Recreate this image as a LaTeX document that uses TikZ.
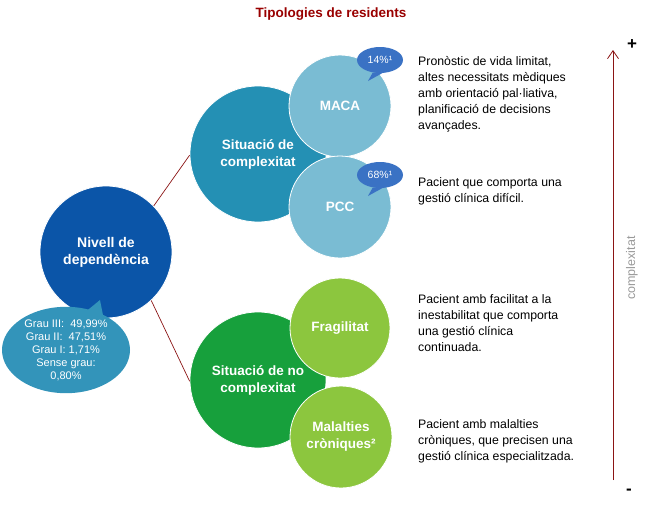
\documentclass[tikz,border=0pt]{standalone}
\usepackage{fontspec}
\setmainfont{Liberation Sans}
\usetikzlibrary{shapes.geometric,arrows.meta}
\definecolor{nivc}{RGB}{11,85,168}
\definecolor{scc}{RGB}{36,144,180}
\definecolor{lbc}{RGB}{122,188,211}
\definecolor{elc}{RGB}{51,148,186}
\definecolor{pctc}{RGB}{58,114,196}
\definecolor{dgc}{RGB}{23,160,60}
\definecolor{lgc}{RGB}{140,198,62}
\definecolor{linec}{RGB}{139,20,20}
\definecolor{titlec}{RGB}{153,0,0}
\tikzset{
  circ/.style={circle, draw=white, line width=0.8pt, text=white, align=center, inner sep=0pt,
    font=\bfseries\fontsize{13.5}{17}\selectfont},
  desc/.style={anchor=west, align=left, inner sep=0pt, font=\fontsize{12.3}{16}\selectfont},
  pct/.style={ellipse, fill=pctc, minimum width=46pt, minimum height=26pt, inner sep=0pt,
    text=white, font=\fontsize{10.5}{12}\selectfont},
  conn/.style={draw=linec, line width=0.7pt}
}
\begin{document}
\begin{tikzpicture}[x=1pt,y=-1pt]
\useasboundingbox (0,0) rectangle (654,520);
% title
\node[font=\bfseries\fontsize{13.5}{15}\selectfont, text=titlec] (title) at (331,14) {Tipologies de residents};
% main circle
\node[circ, fill=nivc, minimum size=132pt, font=\bfseries\fontsize{14}{17}\selectfont] (niv) at (106,252) {Nivell de\\dependència};
% bubble
\node[ellipse, fill=elc, minimum width=128pt, minimum height=76pt, inner sep=0pt, text=white,
  align=center, font=\fontsize{11}{13}\selectfont] (grau) at (66,350) {Grau III:\ \ 49,99\%\\Grau II:\ \ 47,51\%\\Grau I: 1,71\%\\Sense grau:\\0,80\%};
\coordinate (gapex) at (100,300);
\coordinate (gl) at (78,318);
\coordinate (gr) at (104,320);
\fill[elc] (gl) -- (gapex) -- (gr) -- cycle;
% complexity circles
\node[circ, fill=scc, minimum size=136pt] (sc) at (258,154) {Situació de\\complexitat};
\node[circ, fill=lbc, minimum size=102pt] (maca) at (340,106) {MACA};
\node[circ, fill=lbc, minimum size=102pt] (pcc) at (340,207) {PCC};
\node[pct] (p14) at (380,60) {14\%¹};
\coordinate (p14a) at (368,81);
\fill[pctc] (p14.-120) -- (p14a) -- (p14.-80) -- cycle;
\node[pct] (p68) at (380,175) {68\%¹};
\coordinate (p68a) at (368,196);
\fill[pctc] (p68.-120) -- (p68a) -- (p68.-80) -- cycle;
% non complexity circles
\node[circ, fill=dgc, minimum size=136pt] (snc) at (258,380) {Situació de no\\complexitat};
\node[circ, fill=lgc, minimum size=100pt] (frag) at (340,328) {Fragilitat};
\node[circ, fill=lgc, minimum size=102pt] (mal) at (341,437) {Malalties\\cròniques²};
% connectors
\draw[conn] (niv.44) -- (sc.181);
\draw[conn] (niv.-47) -- (snc.181);
% descriptions
\node[desc] (d1) at (418,94) {Pronòstic de vida limitat,\\altes necessitats mèdiques\\amb orientació pal·liativa,\\planificació de decisions\\avançades.};
\node[desc] (d2) at (418,191) {Pacient que comporta una\\gestió clínica difícil.};
\node[desc] (d3) at (418,323) {Pacient amb facilitat a la\\inestabilitat que comporta\\una gestió clínica\\continuada.};
\node[desc] (d4) at (418,441) {Pacient amb malalties\\cròniques, que precisen una\\gestió clínica especialitzada.};
% axis
\coordinate (abot) at (613,480);
\coordinate (atop) at (613,50);
\draw[draw=linec, line width=0.8pt, -{Straight Barb[length=8pt,width=11pt]}] (abot) -- (atop);
\node[font=\bfseries\fontsize{17}{17}\selectfont] (plus) at (632,45) {+};
\node[font=\bfseries\fontsize{17}{17}\selectfont] (minus) at (629,492) {-};
\node[rotate=90, text=gray!80, font=\fontsize{12.5}{14}\selectfont] (cx) at (632,268) {complexitat};
\end{tikzpicture}
\end{document}
